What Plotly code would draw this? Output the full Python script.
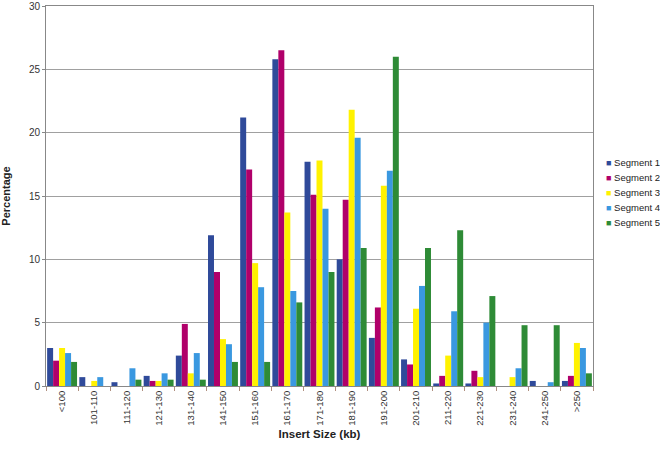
import plotly.graph_objects as go

sizes = ['<100', '101-110', '111-120', '121-130', '131-140', '141-150', '151-160',
         '161-170', '171-180', '181-190', '191-200', '201-210', '211-220', '221-230',
         '231-240', '241-250', '>250']

seg1 = [3.0, 0.7, 0.3, 0.8, 2.4, 11.9, 21.2, 25.8, 17.7, 10.0, 3.8, 2.1, 0.2, 0.2, 0.0, 0.4, 0.4]
seg2 = [2.0, 0.0, 0.0, 0.4, 4.9, 9.0, 17.1, 26.5, 15.1, 14.7, 6.2, 1.7, 0.8, 1.2, 0.0, 0.0, 0.8]
seg3 = [3.0, 0.4, 0.0, 0.4, 1.0, 3.7, 9.7, 13.7, 17.8, 21.8, 15.8, 6.1, 2.4, 0.7, 0.7, 0.0, 3.4]
seg4 = [2.6, 0.7, 1.4, 1.0, 2.6, 3.3, 7.8, 7.5, 14.0, 19.6, 17.0, 7.9, 5.9, 5.0, 1.4, 0.3, 3.0]
seg5 = [1.9, 0.0, 0.5, 0.5, 0.5, 1.9, 1.9, 6.6, 9.0, 10.9, 26.0, 10.9, 12.3, 7.1, 4.8, 4.8, 1.0]

names = ['Segment 1', 'Segment 2', 'Segment 3', 'Segment 4', 'Segment 5']
colors = ['#2f4a9a', '#b0006a', '#fff200', '#3a98e0', '#2e8b36']

fig = go.Figure()
for name, vals, c in zip(names, [seg1, seg2, seg3, seg4, seg5], colors):
    fig.add_trace(go.Bar(x=sizes, y=vals, name=name, marker_color=c, marker_line_width=0))

# compact legend (plotly's own puts the swatch too far from the text)
for i, (name, c) in enumerate(zip(names, colors)):
    fig.add_annotation(
        xref='paper', yref='paper', x=1.02, y=0.587 - i * 0.0395,
        xanchor='left', yanchor='middle', showarrow=False,
        text='<span style="color:%s;font-size:9px">■</span> %s' % (c, name),
        font=dict(size=9.5, color='#222'),
    )

fig.update_layout(
    width=660, height=450,
    margin=dict(l=46, r=67, t=6, b=64, autoexpand=False),
    paper_bgcolor='white', plot_bgcolor='white',
    font=dict(family='Liberation Sans, Arial', size=10, color='#222'),
    barmode='group', bargap=0.07, bargroupgap=0,
    showlegend=False,
)
fig.update_xaxes(
    title=dict(text='<b>Insert Size (kb)</b>', font=dict(size=11.5), standoff=5),
    tickangle=-90, tickfont=dict(size=9.5, color='#333'), automargin=False,
    showline=True, linecolor='#888', linewidth=1, mirror=True,
    ticks='outside', tickson='boundaries', ticklen=4, tickcolor='#b09080',
)
fig.update_yaxes(
    title=dict(text='<b>Percentage</b>', font=dict(size=11), standoff=24),
    range=[0, 30], dtick=5, tickfont=dict(size=10, color='#333'), automargin=False,
    showgrid=True, gridcolor='#a0a0a0', gridwidth=1,
    showline=True, linecolor='#888', linewidth=1, mirror=True,
    ticks='outside', ticklen=3, tickcolor='#888', zeroline=False,
)
fig.write_html('out.html', config={'displayModeBar': False},
               post_script="document.body.style.margin='0';")
